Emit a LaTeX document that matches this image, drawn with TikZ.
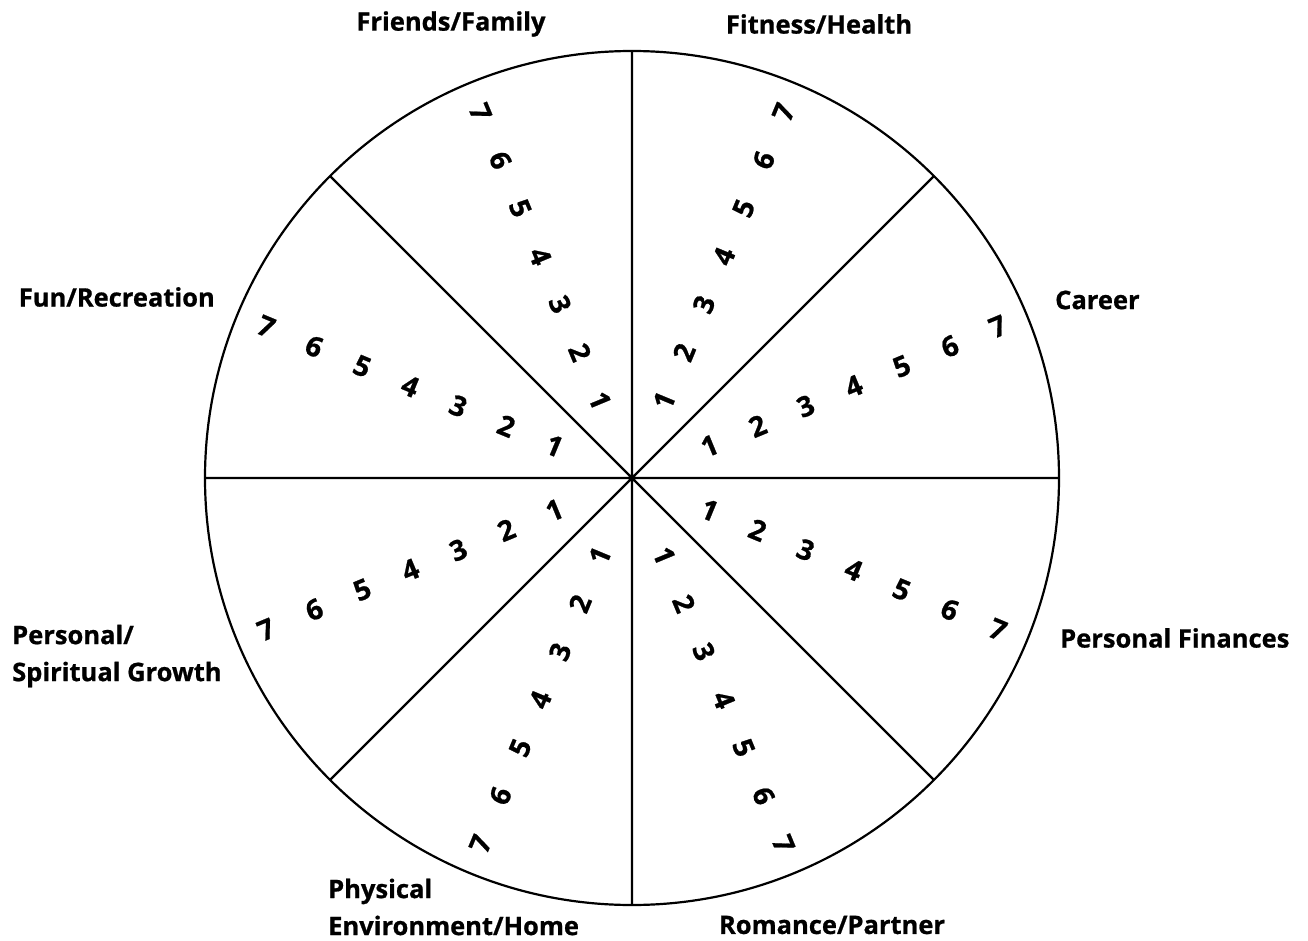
\documentclass[tikz,border=0pt]{standalone}
\usepackage{fontspec}
\setmainfont{Open Sans}[BoldFeatures={FakeBold=0.8}]
\usepackage{tikz}
\usetikzlibrary{positioning}
\tikzset{
	x=1pt, y=1pt, % one unit is one pixel of the picture
	wheel/.style={circle, draw, line width=2.2pt, minimum size=854pt, inner sep=0pt, outer sep=0pt}, % the outer rim
	spoke/.style={line width=2.2pt},
	score/.style={font=\fontsize{28}{28}\selectfont\bfseries, inner sep=0pt}, % the numbers 1 to 7
	area/.style={font=\fontsize{25.5}{37}\selectfont\bfseries, inner sep=0pt, align=left}, % the life areas
}

\begin{document}
\begin{tikzpicture}
		\useasboundingbox (-632,-462) rectangle (676,478);
		\node[wheel] (w) at (0,0) {};
		
		\draw[spoke]
		(w.0) -- (w.180)
		(w.45) -- (w.225)
		(w.90) -- (w.270)
		(w.135) -- (w.315);
		
		% numbers along the middle of each slice
		\foreach \ang/\rot [count=\s] in {22.5/22.5, 67.5/67.5, 112.5/-67.5, 157.5/-22.5, 202.5/22.5, 247.5/67.5, 292.5/-67.5, 337.5/-22.5}
			\foreach \k in {1,...,7}
				\node[score, rotate=\rot] (s\s-\k) at (\ang:{84+52*(\k-1)}) {\k};
		
		\node[area] (friends) at (-181,454) {Friends/Family};
		\node[area] (fitness) at (187,454) {Fitness/Health};
		\node[area, anchor=west] (career) at (423,178) {Career};
		\node[area, anchor=east] (fun) at (-417,181) {Fun/Recreation};
		\node[area, anchor=west] (finances) at (428,-160) {Personal Finances};
		\node[area, anchor=west] (growth) at (-620,-178) {Personal/\\Spiritual Growth};
		\node[area, anchor=west] (home) at (-304,-429) {Physical\\Environment/Home};
		\node[area] (romance) at (200,-447) {Romance/Partner};
		
	\end{tikzpicture}
\end{document}
